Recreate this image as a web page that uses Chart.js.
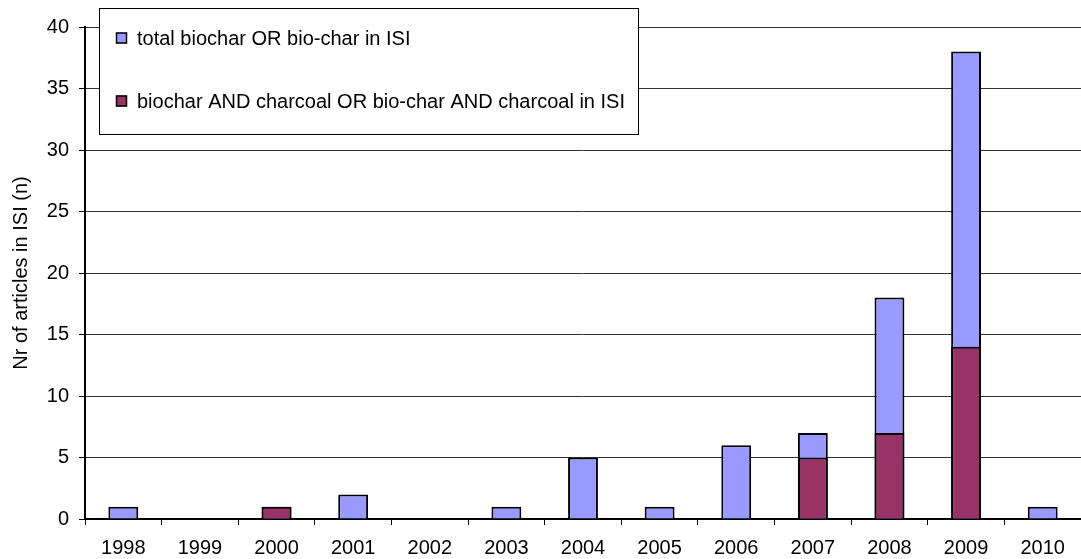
<!DOCTYPE html>
<html>
<head>
<meta charset="utf-8">
<script src="https://cdn.jsdelivr.net/npm/chart.js@4/dist/chart.umd.min.js"></script>
<style>
  html, body { margin: 0; padding: 0; background: #fff; }
  #wrap { width: 1081px; height: 559px; }
</style>
</head>
<body>
<div id="wrap"><canvas id="isi-chart"></canvas></div>
<script>
// Data
const years = ['1998', '1999', '2000', '2001', '2002', '2003', '2004', '2005', '2006', '2007', '2008', '2009', '2010'];
const totalArticles = [1, 0, 1, 2, 0, 1, 5, 1, 6, 7, 18, 38, 1];
const charcoalArticles = [0, 0, 1, 0, 0, 0, 0, 0, 0, 5, 7, 14, 0];
const yTicks = [0, 5, 10, 15, 20, 25, 30, 35, 40];

const totalLabel = 'total biochar OR bio-char in ISI';
const charcoalLabel = 'biochar AND charcoal OR bio-char AND charcoal in ISI';
const FONT = '"Liberation Sans", Arial, sans-serif';

// Legend box drawn over the plot, like the Excel one
const boxLegend = {
  id: 'boxLegend',
  afterDraw(chart) {
    const ctx = chart.ctx;
    ctx.save();
    ctx.fillStyle = '#fff';
    ctx.fillRect(99, 8, 539, 126);
    ctx.strokeStyle = '#000';
    ctx.lineWidth = 1;
    ctx.strokeRect(99.5, 8.5, 539, 126);
    ctx.font = '20px ' + FONT;
    ctx.textBaseline = 'middle';
    const items = [
      { label: totalLabel, color: '#9999FF', y: 38 },
      { label: charcoalLabel, color: '#993366', y: 101 }
    ];
    items.forEach((it) => {
      ctx.fillStyle = it.color;
      ctx.fillRect(116, it.y - 5.5, 11, 11);
      ctx.strokeStyle = '#000';
      ctx.lineWidth = 1.5;
      ctx.strokeRect(116.5, it.y - 5, 10, 10);
      ctx.fillStyle = '#000';
      ctx.fillText(it.label, 137, it.y + 1);
    });
    ctx.restore();
  }
};

const ctx = document.getElementById('isi-chart').getContext('2d');
new Chart(ctx, {
  type: 'bar',
  data: {
    labels: years,
    datasets: [
      {
        label: totalLabel,
        data: totalArticles,
        backgroundColor: '#9999FF',
        borderColor: '#000',
        borderWidth: 2,
        order: 1
      },
      {
        label: charcoalLabel,
        data: charcoalArticles,
        backgroundColor: '#993366',
        borderColor: '#000',
        borderWidth: 2,
        order: 0
      }
    ]
  },
  plugins: [boxLegend],
  options: {
    responsive: true,
    maintainAspectRatio: false,
    animation: false,
    layout: { padding: { top: 27, right: 0, left: 0, bottom: 0 } },
    datasets: { bar: { categoryPercentage: 1, barPercentage: 0.39 } },
    plugins: {
      legend: { display: false },
      tooltip: { enabled: false }
    },
    scales: {
      x: {
        stacked: true,
        border: { color: '#000', width: 2 },
        grid: { offset: true, drawOnChartArea: false, drawTicks: true, tickLength: 6, tickColor: '#000' },
        ticks: { color: '#000', font: { family: FONT, size: 20 }, padding: 11, maxRotation: 0, autoSkip: false },
        afterFit(scale) { scale.height = 40; }
      },
      y: {
        stacked: false,
        min: 0,
        max: 40,
        border: { color: '#000', width: 2 },
        grid: { color: '#333', lineWidth: 1, tickLength: 6, tickColor: '#000' },
        afterBuildTicks(scale) { scale.ticks = yTicks.map((v) => ({ value: v })); },
        ticks: { color: '#000', font: { family: FONT, size: 20 }, padding: 10 },
        title: {
          display: true,
          text: 'Nr of articles in ISI (n)',
          color: '#000',
          font: { family: FONT, size: 20 },
          padding: { top: 9, bottom: 0 }
        },
        afterFit(scale) { scale.width = 85; }
      }
    }
  }
});
</script>
</body>
</html>
